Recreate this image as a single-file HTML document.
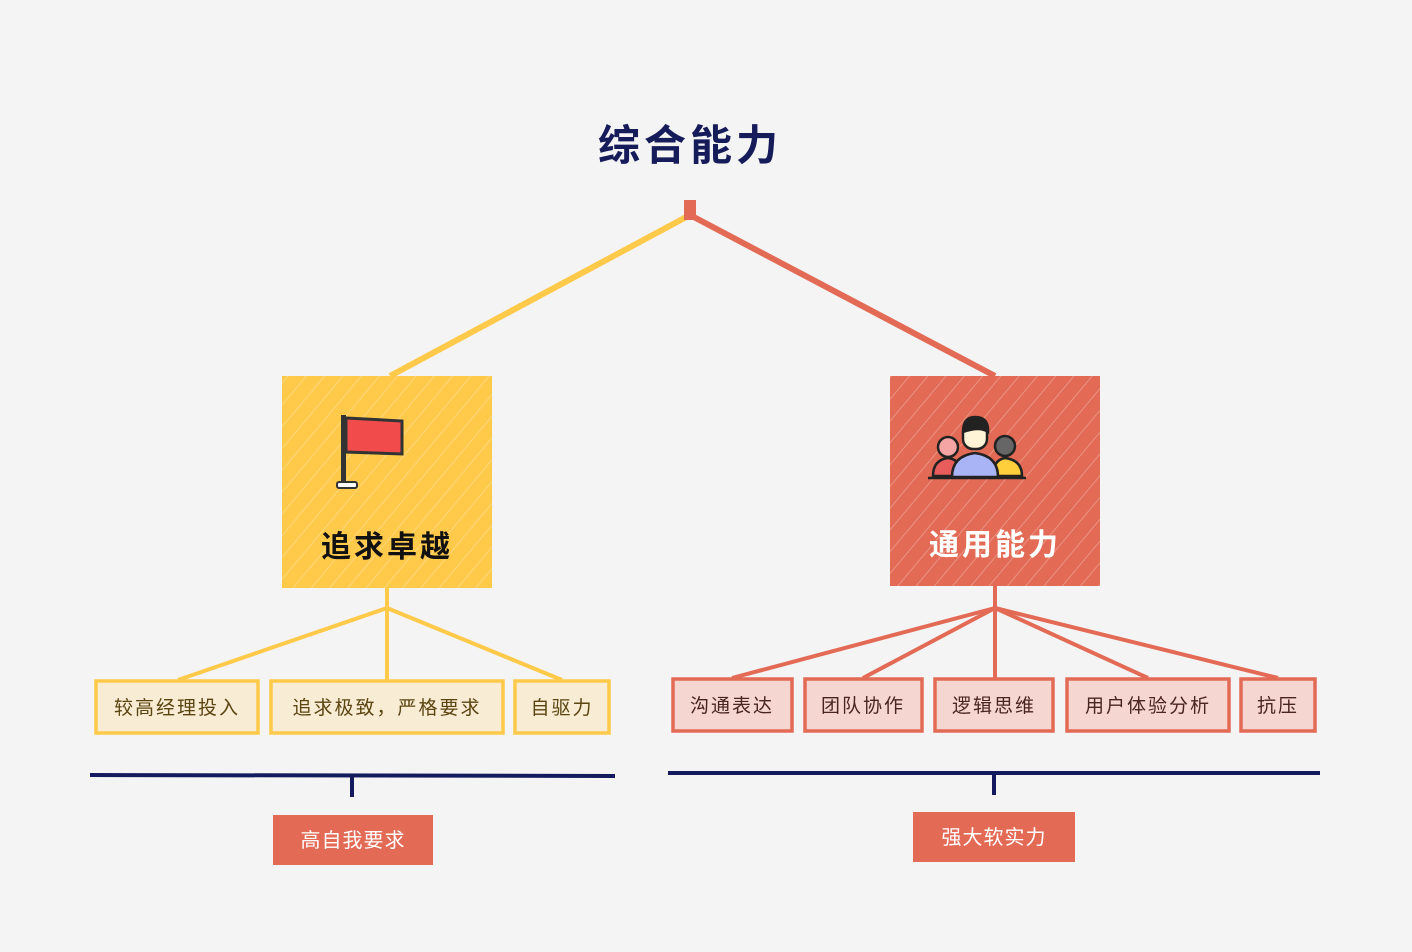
<!DOCTYPE html>
<html><head><meta charset="utf-8"><style>
html,body{margin:0;padding:0;background:#f4f4f4;}
svg{display:block;font-family:"Liberation Sans","Noto Sans CJK SC",sans-serif;}
</style></head><body>
<svg width="1412" height="952" viewBox="0 0 1412 952" xmlns="http://www.w3.org/2000/svg">
<defs>
<pattern id="hatch" width="14" height="14" patternUnits="userSpaceOnUse" patternTransform="rotate(40)">
<line x1="0" y1="0" x2="0" y2="14" stroke="#fff" stroke-opacity="0.35" stroke-width="1.5"/>
</pattern>
</defs>
<rect width="1412" height="952" fill="#f4f4f4"/>
<text x="690" y="160" text-anchor="middle" font-size="42" font-weight="bold" fill="#161c5a" letter-spacing="4">综合能力</text>
<!-- top connectors -->
<line x1="690" y1="215" x2="390" y2="376" stroke="#ffc94a" stroke-width="6"/>
<line x1="690" y1="215" x2="995" y2="376" stroke="#e36b56" stroke-width="6"/>
<rect x="684" y="200" width="12" height="20" fill="#e36b56"/>
<!-- yellow box -->
<rect x="282" y="376" width="210" height="212" fill="#ffc94a"/>
<rect x="282" y="376" width="210" height="212" fill="url(#hatch)"/>
<rect x="341" y="415" width="5" height="70" fill="#333"/>
<rect x="337" y="482" width="20" height="6" rx="2" fill="#fff" stroke="#333" stroke-width="2"/>
<path d="M346 418 L402 421 L402 454 L346 452 Z" fill="#f24b4b" stroke="#333" stroke-width="3"/>
<text x="387" y="557" text-anchor="middle" font-size="30" font-weight="bold" fill="#111" letter-spacing="3">追求卓越</text>
<!-- red box -->
<rect x="890" y="376" width="210" height="210" fill="#e36b56"/>
<rect x="890" y="376" width="210" height="210" fill="url(#hatch)"/>
<g stroke="#222" stroke-width="2.5">
<path d="M933 476 Q933 460 948 458 Q962 460 962 476 Z" fill="#e85c5c"/>
<circle cx="948" cy="447" r="10" fill="#f6a5a5"/>
<path d="M993 476 Q993 460 1005 458 Q1022 460 1022 476 Z" fill="#ffce3a"/>
<circle cx="1005" cy="446" r="10" fill="#666"/>
<path d="M952 477 Q952 456 975 453 Q998 456 998 477 Z" fill="#a9b4f6"/>
<rect x="963" y="423" width="24" height="26" rx="10" fill="#fff5d6"/>
<path d="M963 432 Q963 417 975 417 Q989 417 988 432 Q980 426 963 432Z" fill="#222"/>
<line x1="928" y1="478" x2="1026" y2="478"/>
</g>
<text x="995" y="555" text-anchor="middle" font-size="30" font-weight="bold" fill="#fff" letter-spacing="3">通用能力</text>
<!-- yellow children connectors -->
<g stroke="#ffc94a" stroke-width="4" fill="none">
<line x1="387" y1="588" x2="387" y2="680"/>
<line x1="387" y1="608" x2="178" y2="680"/>
<line x1="387" y1="608" x2="562" y2="680"/>
</g>
<g stroke="#ffc94a" stroke-width="3.5" fill="#f8ecd4">
<rect x="96" y="681" width="162" height="52"/>
<rect x="271" y="681" width="232" height="52"/>
<rect x="515" y="681" width="94" height="52"/>
</g>
<g font-size="19" fill="#5a4410" text-anchor="middle" letter-spacing="2">
<text x="177" y="714">较高经理投入</text>
<text x="387" y="714">追求极致，严格要求</text>
<text x="562" y="714">自驱力</text>
</g>
<!-- red children connectors -->
<g stroke="#e36b56" stroke-width="4" fill="none">
<line x1="995" y1="586" x2="995" y2="678"/>
<line x1="995" y1="608" x2="732" y2="678"/>
<line x1="995" y1="608" x2="863" y2="678"/>
<line x1="995" y1="608" x2="1148" y2="678"/>
<line x1="995" y1="608" x2="1278" y2="678"/>
</g>
<g stroke="#e36b56" stroke-width="3.5" fill="#f5d6d0">
<rect x="673" y="679" width="119" height="52"/>
<rect x="805" y="679" width="117" height="52"/>
<rect x="935" y="679" width="118" height="52"/>
<rect x="1067" y="679" width="162" height="52"/>
<rect x="1241" y="679" width="74" height="52"/>
</g>
<g font-size="19" fill="#4a2420" text-anchor="middle" letter-spacing="2">
<text x="732" y="712">沟通表达</text>
<text x="863" y="712">团队协作</text>
<text x="994" y="712">逻辑思维</text>
<text x="1148" y="712">用户体验分析</text>
<text x="1278" y="712">抗压</text>
</g>
<!-- brackets -->
<g stroke="#131a5e" stroke-width="4" fill="none">
<line x1="90" y1="775" x2="615" y2="776"/>
<line x1="352" y1="776" x2="352" y2="797"/>
<line x1="668" y1="773" x2="1320" y2="773"/>
<line x1="994" y1="773" x2="994" y2="795"/>
</g>
<rect x="273" y="815" width="160" height="50" fill="#e36b56"/>
<rect x="913" y="812" width="162" height="50" fill="#e36b56"/>
<g font-size="20" fill="#fff" text-anchor="middle" letter-spacing="1">
<text x="353" y="847">高自我要求</text>
<text x="994" y="844">强大软实力</text>
</g>
</svg>
</body></html>
